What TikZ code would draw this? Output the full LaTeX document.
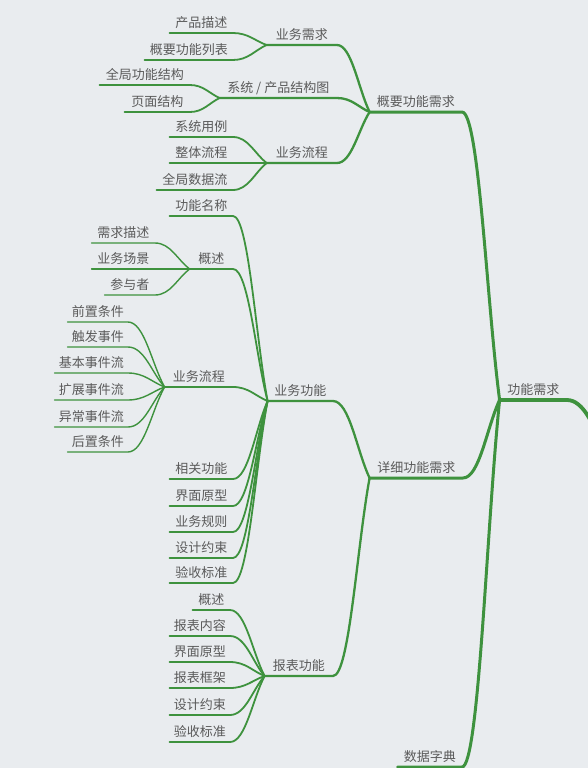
\documentclass[tikz,border=0pt]{standalone}
\usepackage{fontspec}
\setmainfont{Noto Sans CJK SC}
\usetikzlibrary{calc}
\definecolor{bg}{RGB}{233,236,239}
\definecolor{ln}{RGB}{62,146,62}
\definecolor{tx}{RGB}{90,90,90}
\tikzset{
  topic/.style={anchor=south east, inner xsep=0pt, inner ysep=5pt, text depth=0pt,
    text height=10pt, text=tx, font=\fontsize{13}{15}\selectfont, minimum width=#1},
  topic/.default=63pt,
  branch/.style={to path={.. controls ($(\tikztostart)!0.45!(\tikztostart-|\tikztotarget)$)
    and ($(\tikztostart)!0.65!(\tikztotarget)$) .. (\tikztotarget)}},
  lz/.style={draw=ln, line width=3.8pt, line cap=round},
  la/.style={draw=ln, line width=3pt, line cap=round},
  lb/.style={draw=ln, line width=2.3pt, line cap=round},
  lc/.style={draw=ln, line width=1.8pt, line cap=round},
  ld/.style={draw=ln, line width=1.4pt, line cap=round}
}
\begin{document}
\begin{tikzpicture}[x=1pt,y=-1pt]
\useasboundingbox (0,0) rectangle (588,768);
\fill[bg] (0,0) rectangle (588,768);
\clip (0,0) rectangle (588,768);
% root
\coordinate (root) at (640,560);
\node[topic=67pt] (gn) at (567,400) {功能需求};
% level 1
\node[topic=92pt] (gy) at (462,112) {概要功能需求};
\node[topic=93pt] (xx) at (463,478) {详细功能需求};
\node[topic=64pt] (sj) at (462,767) {数据字典};
% level 2
\node[topic=70pt] (ywxq) at (337,45) {业务需求};
\node[topic=117pt] (xt) at (337,98) {系统\kern3pt/\kern3pt产品结构图};
\node[topic=70pt] (ywlc) at (337,163) {业务流程};
\node[topic=65pt] (ywgn) at (333,401) {业务功能};
\node[topic=68pt] (bbgn) at (333,676) {报表功能};
% level 3 (overview)
\node[topic] (cpms) at (233,33) {产品描述};
\node[topic=88pt] (gygn) at (233,60) {概要功能列表};
\node[topic=90pt] (qjgn) at (190,85) {全局功能结构};
\node[topic=65pt] (ymjg) at (190,112) {页面结构};
\node[topic] (xtyl) at (233,137) {系统用例};
\node[topic] (ztlc) at (233,163) {整体流程};
\node[topic=76pt] (qjsj) at (233,190) {全局数据流};
% level 3 (business function)
\node[topic] (gnmc) at (233,216) {功能名称};
\node[topic=43pt] (gs) at (233,269) {概述};
\node[topic=68pt] (lc) at (233,387) {业务流程};
\node[topic] (xggn) at (233,479) {相关功能};
\node[topic] (jmyx) at (233,506) {界面原型};
\node[topic] (ywgz) at (233,532) {业务规则};
\node[topic] (sjys) at (233,558) {设计约束};
\node[topic] (ysbz) at (233,583) {验收标准};
% level 4 under 概述
\node[topic] (xqms) at (155,243) {需求描述};
\node[topic] (ywcj) at (155,269) {业务场景};
\node[topic=50pt] (cyz) at (155,295) {参与者};
% level 4 under 业务流程
\node[topic=60pt] (qztj) at (128,322) {前置条件};
\node[topic=60pt] (cfsj) at (128,347) {触发事件};
\node[topic=73pt] (jbsj) at (128,373) {基本事件流};
\node[topic=73pt] (kzsj) at (128,400) {扩展事件流};
\node[topic=73pt] (ycsj) at (128,427) {异常事件流};
\node[topic=60pt] (hztj) at (128,452) {后置条件};
% level 3 (report function)
\node[topic=37pt] (gs2) at (230,610) {概述};
\node[topic=60pt] (bbnr) at (230,636) {报表内容};
\node[topic=60pt] (jmyx2) at (230,662) {界面原型};
\node[topic=60pt] (bbkj) at (230,688) {报表框架};
\node[topic=60pt] (sjys2) at (230,715) {设计约束};
\node[topic=60pt] (ysbz2) at (230,742) {验收标准};
% connectors
\draw[lz] (gn.south west) -- (gn.south east) to[branch] (root);
\foreach \c in {gy,xx,sj}
  \draw[la] (\c.south west) -- (\c.south east) to[branch] (gn.south west);
\foreach \c in {ywxq,xt,ywlc}
  \draw[lb] (\c.south west) -- (\c.south east) to[branch] (gy.south west);
\foreach \c in {ywgn,bbgn}
  \draw[lb] (\c.south west) -- (\c.south east) to[branch] (xx.south west);
\foreach \c in {cpms,gygn}
  \draw[lc] (\c.south west) -- (\c.south east) to[branch] (ywxq.south west);
\foreach \c in {qjgn,ymjg}
  \draw[lc] (\c.south west) -- (\c.south east) to[branch] (xt.south west);
\foreach \c in {xtyl,ztlc,qjsj}
  \draw[lc] (\c.south west) -- (\c.south east) to[branch] (ywlc.south west);
\foreach \c in {gnmc,gs,lc,xggn,jmyx,ywgz,sjys,ysbz}
  \draw[lc] (\c.south west) -- (\c.south east) to[branch] (ywgn.south west);
\foreach \c in {xqms,ywcj,cyz}
  \draw[ld] (\c.south west) -- (\c.south east) to[branch] (gs.south west);
\foreach \c in {qztj,cfsj,jbsj,kzsj,ycsj,hztj}
  \draw[ld] (\c.south west) -- (\c.south east) to[branch] (lc.south west);
\foreach \c in {gs2,bbnr,jmyx2,bbkj,sjys2,ysbz2}
  \draw[lc] (\c.south west) -- (\c.south east) to[branch] (bbgn.south west);
\end{tikzpicture}
\end{document}
